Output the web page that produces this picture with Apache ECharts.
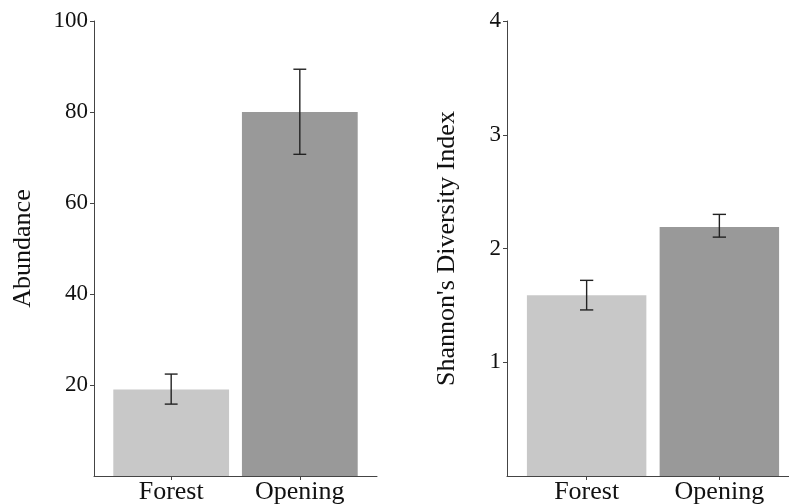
<!DOCTYPE html>
<html>
<head>
<meta charset="utf-8">
<script src="https://cdn.jsdelivr.net/npm/echarts@6/dist/echarts.min.js"></script>
<style>
  html, body { margin: 0; padding: 0; background: #fff; }
  #chart { width: 789px; height: 504px; }
</style>
</head>
<body>
<div id="chart"></div>
<script>
// Static data
const categories = ["Forest", "Opening"];
const catPos = [1, 2];
const barColors = ["#c8c8c8", "#999999"];

const abundance = [19, 80];
const abundanceLow = [15.8, 70.7];
const abundanceHigh = [22.4, 89.4];
const abundanceTicks = [20, 40, 60, 80, 100];

const shannon = [1.59, 2.19];
const shannonLow = [1.46, 2.1];
const shannonHigh = [1.72, 2.3];
const shannonTicks = [1, 2, 3, 4];

const FONT = "'Liberation Serif', 'Times New Roman', serif";

const chart = echarts.init(document.getElementById("chart"));

const xAxisFor = (gridIndex) => ({
  type: "value",
  gridIndex: gridIndex,
  min: 0.4,
  max: 2.6,
  splitLine: { show: false },
  axisLine: { lineStyle: { color: "#444", width: 1 } },
  axisTick: { show: true, length: 4, customValues: catPos, lineStyle: { color: "#444" } },
  axisLabel: {
    customValues: catPos,
    formatter: (v) => categories[catPos.indexOf(Math.round(v))] || "",
    fontFamily: FONT,
    fontSize: 26,
    color: "#111",
    margin: 3,
  },
});

const yAxisFor = (gridIndex, max, interval, name, nameGap, ticks) => ({
  type: "value",
  gridIndex: gridIndex,
  min: 0,
  max: max,
  interval: interval,
  name: name,
  nameLocation: "middle",
  nameGap: nameGap,
  nameTextStyle: { fontFamily: FONT, fontSize: 26, color: "#111" },
  splitLine: { show: false },
  axisLine: { show: true, lineStyle: { color: "#444", width: 1 } },
  axisTick: { show: true, length: 4, customValues: ticks, lineStyle: { color: "#444" } },
  axisLabel: {
    customValues: ticks,
    fontFamily: FONT,
    fontSize: 23,
    color: "#111",
    margin: 6,
  },
});

// error bars drawn through the axis scales
const errorRender = (params, api) => {
  const x = api.value(0);
  const lo = api.coord([x, api.value(1)]);
  const hi = api.coord([x, api.value(2)]);
  const capL = api.coord([x - 0.05, api.value(1)])[0];
  const capR = api.coord([x + 0.05, api.value(1)])[0];
  const style = { stroke: "#222", lineWidth: 1.4 };
  return {
    type: "group",
    children: [
      { type: "line", shape: { x1: lo[0], y1: lo[1], x2: hi[0], y2: hi[1] }, style: style },
      { type: "line", shape: { x1: capL, y1: hi[1], x2: capR, y2: hi[1] }, style: style },
      { type: "line", shape: { x1: capL, y1: lo[1], x2: capR, y2: lo[1] }, style: style },
    ],
  };
};

const barData = (vals) =>
  vals.map((v, i) => ({ value: [catPos[i], v], itemStyle: { color: barColors[i] } }));
const errData = (lo, hi) => lo.map((l, i) => [catPos[i], l, hi[i]]);

const option = {
  animation: false,
  backgroundColor: "#fff",
  grid: [
    { left: 94, top: 21, width: 283, height: 455, outerBoundsMode: "none" },
    { left: 507, top: 21, width: 292, height: 455, outerBoundsMode: "none" },
  ],
  xAxis: [xAxisFor(0), xAxisFor(1)],
  yAxis: [
    yAxisFor(0, 100, 20, "Abundance", 58, abundanceTicks),
    yAxisFor(1, 4, 1, "Shannon's Diversity Index", 47, shannonTicks),
  ],
  series: [
    {
      type: "bar",
      xAxisIndex: 0,
      yAxisIndex: 0,
      barWidth: "90%",
      data: barData(abundance),
    },
    {
      type: "custom",
      xAxisIndex: 0,
      yAxisIndex: 0,
      renderItem: errorRender,
      data: errData(abundanceLow, abundanceHigh),
      z: 5,
    },
    {
      type: "bar",
      xAxisIndex: 1,
      yAxisIndex: 1,
      barWidth: "90%",
      data: barData(shannon),
    },
    {
      type: "custom",
      xAxisIndex: 1,
      yAxisIndex: 1,
      renderItem: errorRender,
      data: errData(shannonLow, shannonHigh),
      z: 5,
    },
  ],
};

chart.setOption(option);
</script>
</body>
</html>
